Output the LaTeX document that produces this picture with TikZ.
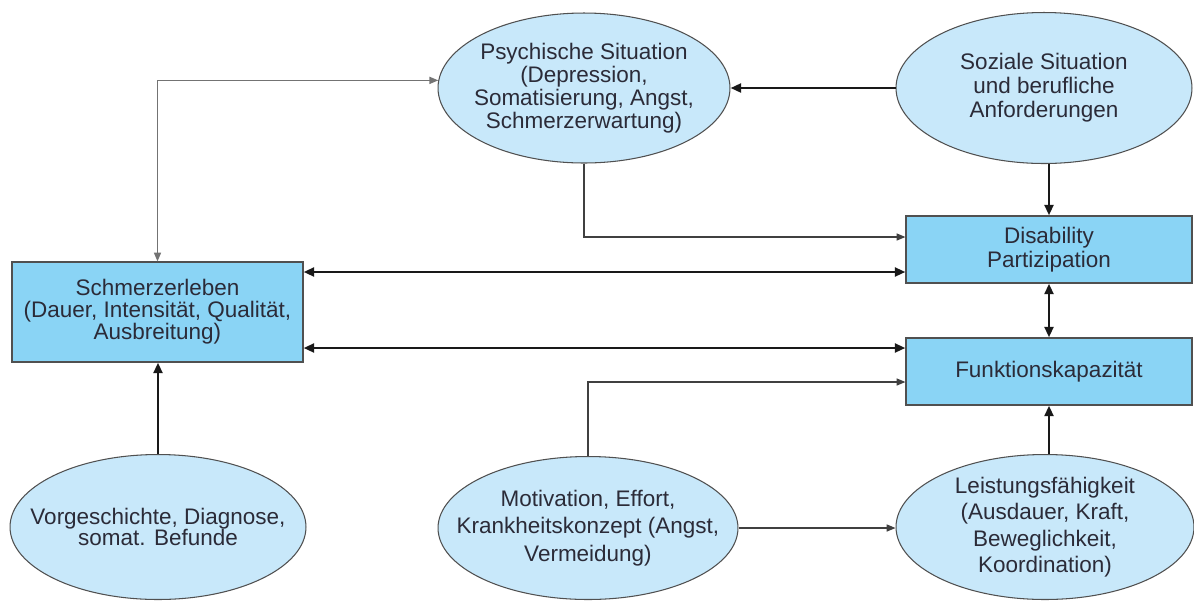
\documentclass[tikz,border=0pt]{standalone}
\usepackage{fontspec}
\setmainfont{Liberation Sans}
\usetikzlibrary{arrows.meta,shapes.geometric}
\definecolor{boxfill}{HTML}{8AD4F5}
\definecolor{ellfill}{HTML}{C8E8FA}
\definecolor{edge}{HTML}{505050}
\definecolor{txtcol}{HTML}{2B2B38}
\tikzset{
  boxnode/.style={draw=edge, line width=0.7pt, fill=boxfill, inner sep=0pt},
  ellnode/.style={ellipse, draw=edge, line width=0.6pt, fill=ellfill, inner sep=0pt},
  txt/.style={font=\fontsize{12.8}{#1}\selectfont, align=center, text=txtcol, inner sep=0pt},
  thinarrow/.style={draw=black!75, line width=0.7pt, -{Triangle[length=5pt,width=4pt]}},
  greyarrow/.style={draw=black!55, line width=0.8pt, {Triangle[length=5pt,width=4pt]}-{Triangle[length=5pt,width=4pt]}},
  thickarrow/.style={draw=black!90, line width=1.6pt, -{Triangle[length=6pt,width=5pt]}},
  thickboth/.style={draw=black!90, line width=1.6pt, {Triangle[length=6pt,width=5pt]}-{Triangle[length=6pt,width=5pt]}},
}
\begin{document}
\begin{tikzpicture}[x=0.02cm,y=-0.02cm]
\useasboundingbox (0,0) rectangle (1194,603);
\fill[white] (0,0) rectangle (1194,603);

% boxes
\node[boxnode, minimum width=5.82cm, minimum height=2.0cm] (schmerz) at (157.5,312) {};
\node[txt=12.6pt] at (schmerz) {Schmerzerleben\\(Dauer, Intensität, Qualität,\\Ausbreitung)};

\node[boxnode, minimum width=5.72cm, minimum height=1.34cm] (disab) at (1049,249.5) {};
\node[txt=14pt] at (disab) {Disability\\Partizipation};

\node[boxnode, minimum width=5.72cm, minimum height=1.34cm] (funk) at (1049,371.5) {};
\node[txt=14pt] at (funk) {Funktionskapazität};

% ellipses
\node[ellnode, minimum width=5.84cm, minimum height=3.0cm] (psych) at (584,88) {};
\node[txt=13.2pt] at (psych) {Psychische Situation\\(Depression,\\Somatisierung, Angst,\\Schmerzerwartung)};

\node[ellnode, minimum width=5.92cm, minimum height=3.02cm] (sozial) at (1044,88) {};
\node[txt=13.6pt] at (sozial) {Soziale Situation\\und berufliche\\Anforderungen};

\node[ellnode, minimum width=5.96cm, minimum height=2.9cm] (leist) at (1045,527) {};
\node[txt=15pt] at (leist) {Leistungsfähigkeit\\(Ausdauer, Kraft,\\Beweglichkeit,\\Koordination)};

\node[ellnode, minimum width=6.0cm, minimum height=2.86cm] (motiv) at (588,528) {};
\node[txt=15.5pt] at (motiv) {Motivation, Effort,\\Krankheitskonzept (Angst,\\Vermeidung)};

\node[ellnode, minimum width=5.92cm, minimum height=2.9cm] (vorg) at (158,527) {};
\node[txt=12pt] at (vorg) {Vorgeschichte, Diagnose,\\somat. Befunde};

% helper coordinates
\coordinate (dthin) at ([yshift=0.25cm]disab.west);
\coordinate (dthick) at ([yshift=-0.45cm]disab.west);
\coordinate (fthick) at ([yshift=0.47cm]funk.west);
\coordinate (fthin) at ([yshift=-0.21cm]funk.west);

% connectors
\draw[greyarrow] (schmerz.north) |- (psych.177);
\draw[thickarrow] (sozial.west) -- (psych.east);
\draw[thickarrow] (disab.north |- sozial.south) -- (disab.north);
\draw[thinarrow] (psych.south) |- (dthin);
\draw[thickboth] (schmerz.east |- dthick) -- (dthick);
\draw[thickboth] (schmerz.east |- fthick) -- (fthick);
\draw[thinarrow] (motiv.north) |- (fthin);
\draw[thickboth] (disab.south) -- (funk.north);
\draw[thickarrow] (funk.south |- leist.north) -- (funk.south);
\draw[thinarrow] (motiv.east) -- (motiv.east -| leist.west);
\draw[thickarrow] (vorg.north) -- (vorg.north |- schmerz.south);
\end{tikzpicture}
\end{document}
